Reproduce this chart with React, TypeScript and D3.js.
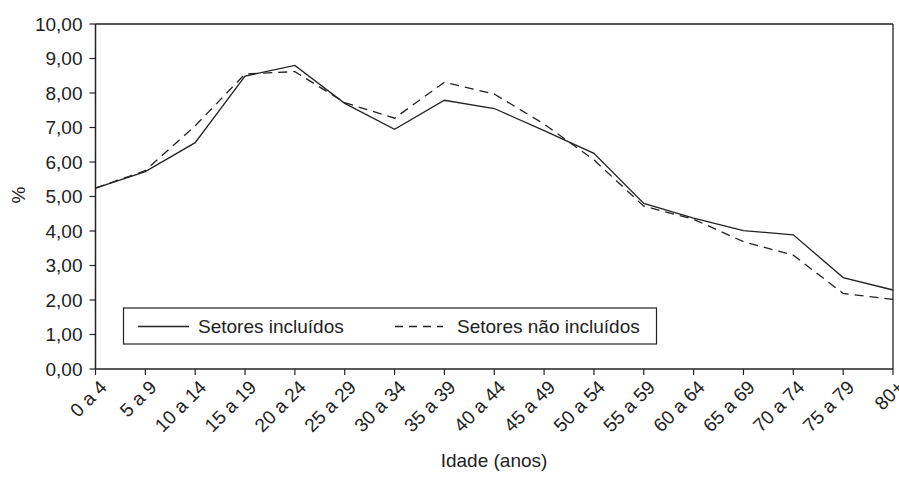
import React from "react";
import * as d3 from "d3";

const categories = ["0 a 4","5 a 9","10 a 14","15 a 19","20 a 24","25 a 29","30 a 34","35 a 39","40 a 44","45 a 49","50 a 54","55 a 59","60 a 64","65 a 69","70 a 74","75 a 79","80+"];
const incluidos = [5.24,5.72,6.56,8.49,8.80,7.70,6.95,7.79,7.55,6.91,6.25,4.80,4.37,4.01,3.89,2.65,2.29];
const naoIncluidos = [5.24,5.75,7.05,8.55,8.62,7.72,7.27,8.31,7.97,7.10,6.06,4.72,4.34,3.69,3.30,2.19,2.02];
const yTicks = [0,1,2,3,4,5,6,7,8,9,10];
const seriesNames = ["Setores incluídos","Setores não incluídos"];
const xTitle = "Idade (anos)";
const yTitle = "%";

const W = 899, H = 477;
const M = { left: 95.5, right: 6, top: 24, bottom: 108 };
const FONT = "'Liberation Sans', Arial, sans-serif";

export default function App() {
  const x = d3.scalePoint<string>().domain(categories).range([M.left, W - M.right]);
  const y = d3.scaleLinear().domain([0, 10]).range([H - M.bottom, M.top]);
  const line = d3.line<number>().x((_, i) => x(categories[i])!).y(d => y(d));
  const fmt = (v: number) => v.toFixed(2).replace(".", ",");
  const x0 = M.left, x1 = W - M.right, y0 = H - M.bottom, y1 = M.top;
  const col = "#222";
  return (
    <svg width={W} height={H} style={{ position: "absolute", left: 0, top: 0, background: "#fff" }} fontFamily={FONT}>
      <rect x={0} y={0} width={W} height={H} fill="#fff" />
      <line x1={x0} x2={x1} y1={y1} y2={y1} stroke={col} strokeWidth={1.3} />
      <line x1={x1} x2={x1} y1={y1} y2={y0} stroke={col} strokeWidth={1.3} />
      <line x1={x0} x2={x1} y1={y0} y2={y0} stroke={col} strokeWidth={1.5} />
      <line x1={x0} x2={x0} y1={y1} y2={y0} stroke={col} strokeWidth={1.5} />
      {yTicks.map(t => (
        <g key={t}>
          <line x1={x0 - 6} x2={x0} y1={y(t)} y2={y(t)} stroke={col} strokeWidth={1.2} />
          <text x={x0 - 13} y={y(t)} dy="0.35em" textAnchor="end" fontSize={19} fill={col}>{fmt(t)}</text>
        </g>
      ))}
      {categories.map(c => (
        <g key={c}>
          <line x1={x(c)} x2={x(c)} y1={y0} y2={y0 + 6} stroke={col} strokeWidth={1.2} />
          <text transform={`translate(${x(c)! + 3},${y0 + 10}) rotate(-45)`} textAnchor="end" dy="0.7em" fontSize={19} fill={col}>{c}</text>
        </g>
      ))}
      <path d={line(incluidos)!} fill="none" stroke={col} strokeWidth={1.3} />
      <path d={line(naoIncluidos)!} fill="none" stroke={col} strokeWidth={1.3} strokeDasharray="9,6" />
      <text x={494} y={467} textAnchor="middle" fontSize={19} fill={col}>{xTitle}</text>
      <text transform={`translate(18,195) rotate(-90)`} textAnchor="middle" dy="0.35em" fontSize={19} fill={col}>{yTitle}</text>
      <rect x={123.5} y={308} width={533} height={36} fill="#fff" stroke={col} strokeWidth={1.2} />
      <line x1={138} x2={189} y1={326.5} y2={326.5} stroke={col} strokeWidth={1.3} />
      <text x={198} y={326.5} dy="0.35em" fontSize={19} fill={col}>{seriesNames[0]}</text>
      <line x1={395} x2={443} y1={326.5} y2={326.5} stroke={col} strokeWidth={1.3} strokeDasharray="8,6" />
      <text x={457} y={326.5} dy="0.35em" fontSize={19} fill={col}>{seriesNames[1]}</text>
    </svg>
  );
}
